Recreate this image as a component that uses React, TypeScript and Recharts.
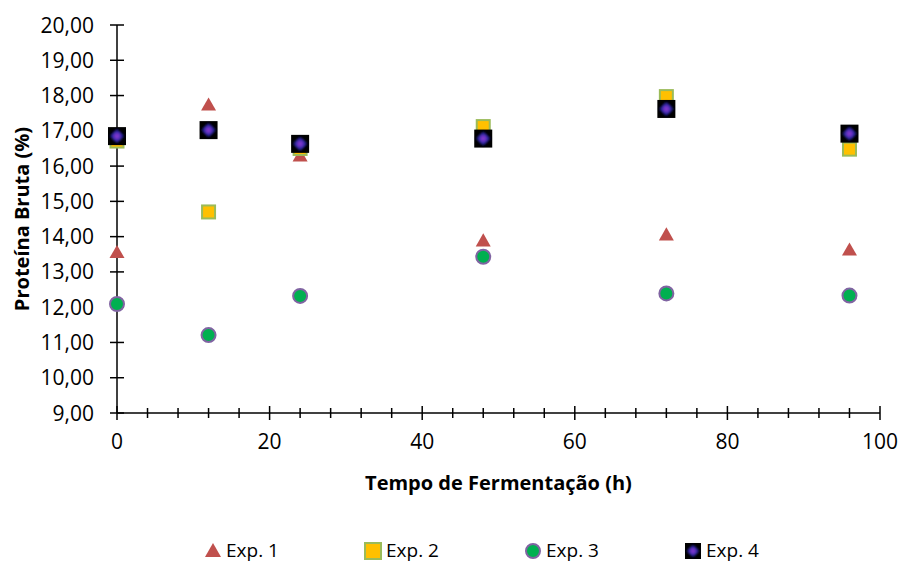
import { ScatterChart, Scatter, XAxis, YAxis, Legend, CartesianGrid } from "recharts";

// Proteína bruta (%) ao longo da fermentação, quatro ensaios
const HOURS = [0, 12, 24, 48, 72, 96];
const EXP1 = [13.55, 17.73, 16.29, 13.88, 14.05, 13.62];
const EXP2 = [16.71, 14.7, 16.5, 17.12, 17.97, 16.48];
const EXP3 = [12.09, 11.21, 12.32, 13.43, 12.39, 12.33];
const EXP4 = [16.85, 17.02, 16.63, 16.78, 17.62, 16.92];
const SERIES_NAMES = ["Exp. 1", "Exp. 2", "Exp. 3", "Exp. 4"];

const X_TICKS = [0, 4, 8, 12, 16, 20, 24, 28, 32, 36, 40, 44, 48, 52, 56, 60, 64, 68, 72, 76, 80, 84, 88, 92, 96, 100];
const X_LABELED = [0, 20, 40, 60, 80, 100];
const Y_TICKS = [9, 10, 11, 12, 13, 14, 15, 16, 17, 18, 19, 20];

const FONT = "'Open Sans', sans-serif";
const AXIS_W = 1.5;

const toPoints = (values: number[]) => HOURS.map((h, i) => ({ x: h, y: values[i] }));

const fmt = (v: number) => v.toFixed(2).replace(".", ",");

// marcadores
function Triangle({ cx, cy, s = 15 }: any) {
  const h = s * 0.87;
  return (
    <polygon
      points={`${cx},${cy - h / 2 - 1} ${cx - s / 2},${cy + h / 2 - 1} ${cx + s / 2},${cy + h / 2 - 1}`}
      fill="#C0504D"
    />
  );
}

function GoldSquare({ cx, cy, s = 13 }: any) {
  return (
    <rect x={cx - s / 2} y={cy - s / 2} width={s} height={s} fill="#FFC000" stroke="#9BBB59" strokeWidth={2} />
  );
}

function GreenDot({ cx, cy, r = 7 }: any) {
  return <circle cx={cx} cy={cy} r={r} fill="#00B050" stroke="#8064A2" strokeWidth={2} />;
}

function GlowDiamond({ cx, cy, s = 18 }: any) {
  const d = s / 2;
  const k = d * 0.85;
  return (
    <g>
      <rect x={cx - d} y={cy - d} width={s} height={s} fill="#000" />
      <polygon
        points={`${cx},${cy - k} ${cx + k},${cy} ${cx},${cy + k} ${cx - k},${cy}`}
        fill="url(#diamondGlow)"
        filter="url(#softEdge)"
      />
    </g>
  );
}

const SHAPES = [Triangle, GoldSquare, GreenDot, GlowDiamond];

// eixos + marcas cruzadas desenhados pela grelha, para ficarem por baixo dos marcadores
function HLine(p: any) {
  const y = p.y1;
  const isAxis = Math.abs(y - (p.y + p.height)) < 0.5;
  return (
    <g key={p.key}>
      <line x1={p.x1 - 7} x2={p.x1 + 7} y1={y} y2={y} stroke="#000" strokeWidth={AXIS_W} />
      {isAxis && <line x1={p.x1} x2={p.x2} y1={y} y2={y} stroke="#000" strokeWidth={AXIS_W} />}
    </g>
  );
}

function VLine(p: any) {
  const x = p.x1;
  const isAxis = Math.abs(x - p.x) < 0.5;
  const step = p.width / (X_TICKS.length - 1);
  const idx = Math.round((x - p.x) / step);
  const t = X_LABELED.includes(X_TICKS[idx]) ? 7 : 5;
  const bottom = Math.max(p.y1, p.y2);
  return (
    <g key={p.key}>
      <line x1={x} x2={x} y1={bottom - t} y2={bottom + t} stroke="#000" strokeWidth={AXIS_W} />
      {isAxis && <line x1={x} x2={x} y1={p.y1} y2={p.y2} stroke="#000" strokeWidth={AXIS_W} />}
    </g>
  );
}

function YTick({ x, y, payload }: any) {
  return (
    <text x={x - 23} y={y + 7.5} textAnchor="end" fontFamily={FONT} fontSize={21} fill="#000">
      {fmt(payload.value)}
    </text>
  );
}

function XTick({ x, y, payload }: any) {
  if (!X_LABELED.includes(payload.value)) return <g />;
  return (
    <text x={x} y={y + 35.5} textAnchor="middle" fontFamily={FONT} fontSize={21} fill="#000">
      {payload.value}
    </text>
  );
}

function LegendContent() {
  return (
    <div style={{ display: "flex", paddingLeft: 203, paddingTop: 24, fontFamily: FONT, fontSize: 19 }}>
      {SERIES_NAMES.map((name, i) => {
        const Shape = SHAPES[i];
        return (
          <div key={name} style={{ display: "flex", alignItems: "center", width: 160 }}>
            <svg width={20} height={20} style={{ marginRight: 3 }}>
              <Shape cx={10} cy={11} s={16} r={7} />
            </svg>
            <span>{name}</span>
          </div>
        );
      })}
    </div>
  );
}

export default function App() {
  const series = [EXP1, EXP2, EXP3, EXP4];
  return (
    <div>
      <style>{`body{margin:0;background:#fff}`}</style>
      <svg width={0} height={0} style={{ position: "absolute" }}>
        <defs>
          <radialGradient id="diamondGlow" cx="50%" cy="50%" r="50%">
            <stop offset="0%" stopColor="#9040D4" />
            <stop offset="30%" stopColor="#6A32C4" />
            <stop offset="62%" stopColor="#2526A0" />
            <stop offset="100%" stopColor="#000018" />
          </radialGradient>
          <filter id="softEdge" x="-30%" y="-30%" width="160%" height="160%">
            <feGaussianBlur stdDeviation="0.9" />
          </filter>
        </defs>
      </svg>
      <ScatterChart width={904} height={563} margin={{ top: 25, right: 24, bottom: 0, left: 0 }}>
        <CartesianGrid horizontal={HLine} vertical={VLine} stroke="#000" />
        <XAxis
          type="number"
          dataKey="x"
          domain={[0, 100]}
          ticks={X_TICKS}
          interval={0}
          height={100}
          tickSize={0}
          tickMargin={0}
          tickLine={false}
          axisLine={false}
          tick={<XTick />}
          label={({ viewBox }: any) => (
            <text
              x={viewBox.x + viewBox.width / 2}
              y={viewBox.y + 77}
              textAnchor="middle"
              fontFamily={FONT}
              fontWeight="bold"
              fontSize={20}
              fill="#000"
            >
              Tempo de Fermentação (h)
            </text>
          )}
        />
        <YAxis
          type="number"
          dataKey="y"
          domain={[9, 20]}
          ticks={Y_TICKS}
          interval={0}
          width={117}
          tickSize={0}
          tickMargin={0}
          tickLine={false}
          axisLine={false}
          tick={<YTick />}
          label={({ viewBox }: any) => {
            const cx = viewBox.x + 21;
            const cy = viewBox.y + viewBox.height / 2;
            return (
              <text
                x={cx}
                y={cy}
                transform={`rotate(-90 ${cx} ${cy})`}
                textAnchor="middle"
                dominantBaseline="central"
                fontFamily={FONT}
                fontWeight="bold"
                fontSize={20}
                fill="#000"
              >
                Proteína Bruta (%)
              </text>
            );
          }}
        />
        {series.map((values, i) => {
          const Shape = SHAPES[i];
          return (
            <Scatter
              key={SERIES_NAMES[i]}
              name={SERIES_NAMES[i]}
              data={toPoints(values)}
              shape={(p: any) => <Shape cx={p.cx} cy={p.cy} />}
              isAnimationActive={false}
            />
          );
        })}
        <Legend
          verticalAlign="bottom"
          height={50}
          wrapperStyle={{ left: 0, width: 904, height: 50 }}
          content={<LegendContent />}
        />
      </ScatterChart>
    </div>
  );
}
